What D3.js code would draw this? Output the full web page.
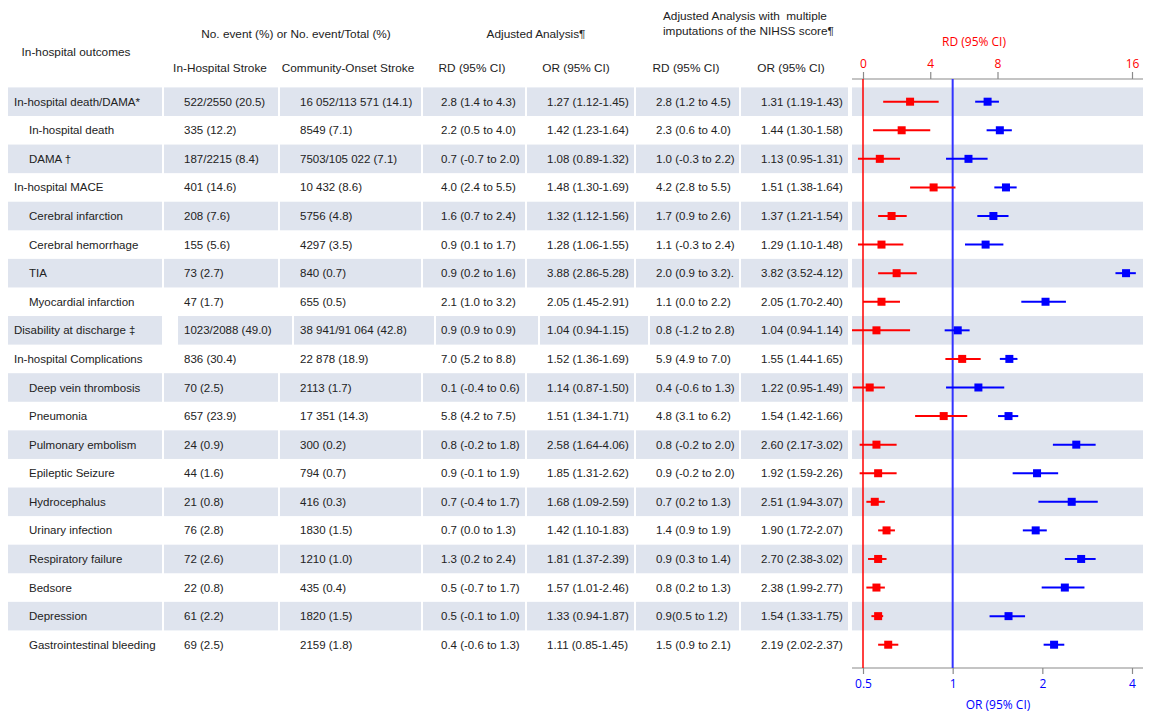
<!DOCTYPE html>
<html>
<head>
<meta charset="utf-8">
<script src="https://cdn.jsdelivr.net/npm/d3@7"></script>
<style>
  html, body { margin: 0; padding: 0; background: #fff; }
  svg text { font-family: "Liberation Sans", Arial, sans-serif; }
</style>
</head>
<body>
<svg id="chart" width="1149" height="714"></svg>
<script>
// ---- Table rows -------------------------------------------------------
const outcomes = [
  "In-hospital death/DAMA*", "In-hospital death", "DAMA \u2020", "In-hospital MACE",
  "Cerebral infarction", "Cerebral hemorrhage", "TIA", "Myocardial infarction",
  "Disability at discharge \u2021", "In-hospital Complications", "Deep vein thrombosis",
  "Pneumonia", "Pulmonary embolism", "Epileptic Seizure", "Hydrocephalus",
  "Urinary infection", "Respiratory failure", "Bedsore", "Depression",
  "Gastrointestinal bleeding"
];
// 0 = main outcome, 1 = sub-outcome (indented)
const indentLevel = [0,1,1,0,1,1,1,1,0,0,1,1,1,1,1,1,1,1,1,1];

const inHospitalStroke = [
  "522/2550 (20.5)", "335 (12.2)", "187/2215 (8.4)", "401 (14.6)", "208 (7.6)",
  "155 (5.6)", "73 (2.7)", "47 (1.7)", "1023/2088 (49.0)", "836 (30.4)", "70 (2.5)",
  "657 (23.9)", "24 (0.9)", "44 (1.6)", "21 (0.8)", "76 (2.8)", "72 (2.6)",
  "22 (0.8)", "61 (2.2)", "69 (2.5)"
];
const communityOnsetStroke = [
  "16 052/113 571 (14.1)", "8549 (7.1)", "7503/105 022 (7.1)", "10 432 (8.6)",
  "5756 (4.8)", "4297 (3.5)", "840 (0.7)", "655 (0.5)", "38 941/91 064 (42.8)",
  "22 878 (18.9)", "2113 (1.7)", "17 351 (14.3)", "300 (0.2)", "794 (0.7)",
  "416 (0.3)", "1830 (1.5)", "1210 (1.0)", "435 (0.4)", "1820 (1.5)", "2159 (1.8)"
];
const rdAdjusted = [
  "2.8 (1.4 to 4.3)", "2.2 (0.5 to 4.0)", "0.7 (-0.7 to 2.0)", "4.0 (2.4 to 5.5)",
  "1.6 (0.7 to 2.4)", "0.9 (0.1 to 1.7)", "0.9 (0.2 to 1.6)", "2.1 (1.0 to 3.2)",
  "0.9 (0.9 to 0.9)", "7.0 (5.2 to 8.8)", "0.1 (-0.4 to 0.6)", "5.8 (4.2 to 7.5)",
  "0.8 (-0.2 to 1.8)", "0.9 (-0.1 to 1.9)", "0.7 (-0.4 to 1.7)", "0.7 (0.0 to 1.3)",
  "1.3 (0.2 to 2.4)", "0.5 (-0.7 to 1.7)", "0.5 (-0.1 to 1.0)", "0.4 (-0.6 to 1.3)"
];
const orAdjusted = [
  "1.27 (1.12-1.45)", "1.42 (1.23-1.64)", "1.08 (0.89-1.32)", "1.48 (1.30-1.69)",
  "1.32 (1.12-1.56)", "1.28 (1.06-1.55)", "3.88 (2.86-5.28)", "2.05 (1.45-2.91)",
  "1.04 (0.94-1.15)", "1.52 (1.36-1.69)", "1.14 (0.87-1.50)", "1.51 (1.34-1.71)",
  "2.58 (1.64-4.06)", "1.85 (1.31-2.62)", "1.68 (1.09-2.59)", "1.42 (1.10-1.83)",
  "1.81 (1.37-2.39)", "1.57 (1.01-2.46)", "1.33 (0.94-1.87)", "1.11 (0.85-1.45)"
];
const rdImputed = [
  "2.8 (1.2 to 4.5)", "2.3 (0.6 to 4.0)", "1.0 (-0.3 to 2.2)", "4.2 (2.8 to 5.5)",
  "1.7 (0.9 to 2.6)", "1.1 (-0.3 to 2.4)", "2.0 (0.9 to 3.2).", "1.1 (0.0 to 2.2)",
  "0.8 (-1.2 to 2.8)", "5.9 (4.9 to 7.0)", "0.4 (-0.6 to 1.3)", "4.8 (3.1 to 6.2)",
  "0.8 (-0.2 to 2.0)", "0.9 (-0.2 to 2.0)", "0.7 (0.2 to 1.3)", "1.4 (0.9 to 1.9)",
  "0.9 (0.3 to 1.4)", "0.8 (0.2 to 1.3)", "0.9(0.5 to 1.2)", "1.5 (0.9 to 2.1)"
];
const orImputed = [
  "1.31 (1.19-1.43)", "1.44 (1.30-1.58)", "1.13 (0.95-1.31)", "1.51 (1.38-1.64)",
  "1.37 (1.21-1.54)", "1.29 (1.10-1.48)", "3.82 (3.52-4.12)", "2.05 (1.70-2.40)",
  "1.04 (0.94-1.14)", "1.55 (1.44-1.65)", "1.22 (0.95-1.49)", "1.54 (1.42-1.66)",
  "2.60 (2.17-3.02)", "1.92 (1.59-2.26)", "2.51 (1.94-3.07)", "1.90 (1.72-2.07)",
  "2.70 (2.38-3.02)", "2.38 (1.99-2.77)", "1.54 (1.33-1.75)", "2.19 (2.02-2.37)"
];

// ---- Axis ticks -------------------------------------------------------
const rdTicks = [0, 4, 8, 16];
const orTicks = [0.5, 1, 2, 4];

// ---- Parse estimate / lower / upper from the imputation columns -----
const parseRD = s => s.match(/-?\d+\.\d+/g).map(Number);
const parseOR = s => s.match(/\d+\.\d+/g).map(Number);
const rdPts = rdImputed.map(parseRD);
const orPts = orImputed.map(parseOR);

// ---- Layout -----------------------------------------------------------
const svg = d3.select("#chart");
const RED = "#ff0000", BLUE = "#0000ff", TXT = "#222222", BAND = "#dfe4ee";
const tableFont = "11.5px";

const y = d3.scaleBand().domain(d3.range(outcomes.length)).range([87.4, 87.4 + 20 * 28.58]).padding(0);
const rd = d3.scaleLinear().domain([0, 16]).range([863, 1132]);
const or = d3.scaleLog().base(2).domain([0.5, 4]).range([863, 1132]);
const plotL = 852, plotR = 1143;

// Cell backgrounds of the shaded rows
const cellsDefault = [[8,162],[164,278],[280,421],[423,525],[527,634],[636,739],[741,848],[plotL,plotR]];
const cellsWide    = [[8,162],[178,292],[294,434],[436,538],[540,648],[650,848],[plotL,plotR]];
const bands = svg.append("g");
d3.range(outcomes.length).filter(i => i % 2 === 0).forEach(i => {
  const cells = i === 8 ? cellsWide : cellsDefault;
  bands.selectAll(null).data(cells).enter().append("rect")
    .attr("x", d => d[0]).attr("width", d => d[1] - d[0])
    .attr("y", y(i)).attr("height", y.bandwidth())
    .attr("fill", BAND);
});

// Header text
const head = svg.append("g").attr("fill", TXT).style("font-size", "11.8px");
const headText = [
  ["In-hospital outcomes", 76, 56, "middle"],
  ["No. event (%) or No. event/Total (%)", 296, 38, "middle"],
  ["In-Hospital Stroke", 220, 72, "middle"],
  ["Community-Onset Stroke", 348, 72, "middle"],
  ["Adjusted Analysis\u00b6", 536, 38, "middle"],
  ["Adjusted Analysis with  multiple", 663, 20, "start"],
  ["imputations of the NIHSS score\u00b6", 663, 35, "start"],
  ["RD (95% CI)", 472, 72, "middle"],
  ["OR (95% CI)", 576, 72, "middle"],
  ["RD (95% CI)", 686, 72, "middle"],
  ["OR (95% CI)", 791, 72, "middle"]
];
head.selectAll("text").data(headText).enter().append("text")
  .attr("x", d => d[1]).attr("y", d => d[2]).attr("text-anchor", d => d[3])
  .style("white-space", "pre").text(d => d[0]);

// Table body text
const cols = [
  { vals: outcomes, x: i => indentLevel[i] ? 29 : 14 },
  { vals: inHospitalStroke, x: () => 184 },
  { vals: communityOnsetStroke, x: () => 300 },
  { vals: rdAdjusted, x: () => 441 },
  { vals: orAdjusted, x: () => 547 },
  { vals: rdImputed, x: () => 656 },
  { vals: orImputed, x: () => 761 }
];
const body = svg.append("g").attr("fill", TXT).style("font-size", tableFont);
cols.forEach(c => {
  body.selectAll(null).data(c.vals).enter().append("text")
    .attr("x", (d, i) => c.x(i))
    .attr("y", (d, i) => y(i) + y.bandwidth() / 2)
    .attr("dy", "0.35em")
    .text(d => d);
});

// ---- Axes ----------------------------------------------------------------
const axisFont = '"Open Sans", "DejaVu Sans", sans-serif';
const topY = 79, botY = 668;

const topAxis = svg.append("g").attr("transform", `translate(0,${topY})`)
  .call(d3.axisTop(rd).tickValues(rdTicks).tickSize(7).tickPadding(4).tickFormat(d3.format("d")));
topAxis.select(".domain").remove();
topAxis.selectAll(".tick line").attr("stroke", "#8a8a8a").attr("stroke-width", 1.2);
topAxis.selectAll(".tick text").attr("fill", RED).style("font-family", axisFont).style("font-size", "12px");
svg.append("line").attr("x1", plotL).attr("x2", plotR).attr("y1", topY).attr("y2", topY)
  .attr("stroke", "#8a8a8a").attr("stroke-width", 1.2);
svg.append("text").attr("x", 974).attr("y", 46).attr("text-anchor", "middle")
  .attr("fill", RED).style("font-family", axisFont).style("font-size", "12px").text("RD (95% CI)");

const botAxis = svg.append("g").attr("transform", `translate(0,${botY})`)
  .call(d3.axisBottom(or).tickValues(orTicks).tickSize(6).tickPadding(5).tickFormat(d3.format("")));
botAxis.select(".domain").remove();
botAxis.selectAll(".tick line").attr("stroke", "#8a8a8a").attr("stroke-width", 1.2);
botAxis.selectAll(".tick text").attr("fill", BLUE).style("font-family", axisFont).style("font-size", "12px");
svg.append("line").attr("x1", plotL).attr("x2", plotR).attr("y1", botY).attr("y2", botY)
  .attr("stroke", "#8a8a8a").attr("stroke-width", 1.2);
svg.append("text").attr("x", 998).attr("y", 709).attr("text-anchor", "middle")
  .attr("fill", BLUE).style("font-family", axisFont).style("font-size", "12px").text("OR (95% CI)");

// Reference lines: RD = 0 and OR = 1
svg.append("line").attr("x1", rd(0)).attr("x2", rd(0)).attr("y1", topY).attr("y2", botY)
  .attr("stroke", RED).attr("stroke-width", 1.5);
svg.append("line").attr("x1", or(1)).attr("x2", or(1)).attr("y1", topY).attr("y2", botY)
  .attr("stroke", "#3333ff").attr("stroke-width", 2);

// ---- Estimates with confidence intervals ----------------------------
const clip = v => Math.max(plotL, Math.min(plotR, v));
const cy = i => y(i) + y.bandwidth() / 2;
const sq = 8;

const drawSeries = (pts, scale, color) => {
  const g = svg.append("g");
  g.selectAll("line").data(pts).enter().append("line")
    .attr("x1", d => clip(scale(d[1]))).attr("x2", d => clip(scale(d[2])))
    .attr("y1", (d, i) => cy(i)).attr("y2", (d, i) => cy(i))
    .attr("stroke", color).attr("stroke-width", 2);
  g.selectAll("rect").data(pts).enter().append("rect")
    .attr("x", d => scale(d[0]) - sq / 2).attr("y", (d, i) => cy(i) - sq / 2)
    .attr("width", sq).attr("height", sq).attr("fill", color);
};
drawSeries(rdPts, rd, RED);
drawSeries(orPts, or, BLUE);
</script>
</body>
</html>
